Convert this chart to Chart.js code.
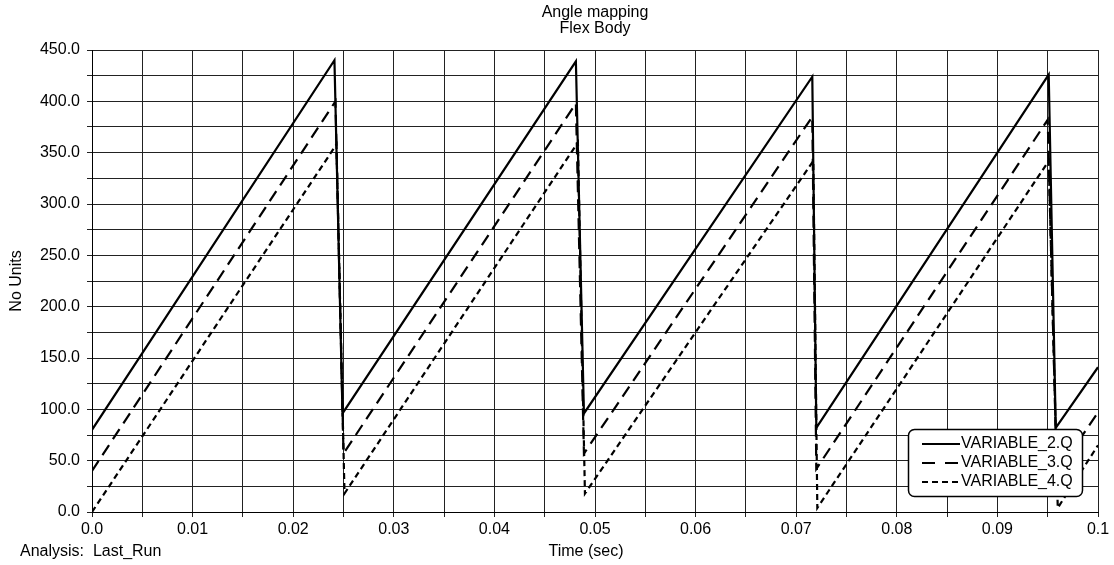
<!DOCTYPE html>
<html>
<head>
<meta charset="utf-8">
<title>Angle mapping</title>
<script src="https://cdn.jsdelivr.net/npm/chart.js@4/dist/chart.umd.min.js"></script>
<style>
  html, body { margin: 0; padding: 0; background: #ffffff; }
  #wrap { width: 1114px; height: 565px; }
</style>
</head>
<body>
<div id="wrap"><canvas id="chart" width="1114" height="565"></canvas></div>
<script>
// Sampled angle history for the three generalized coordinates: [time (s), angle]
const variable2 = [
  [0.0000, 80], [0.0241, 440], [0.0249, 96],
  [0.0481, 439], [0.0489, 96],
  [0.0716, 424], [0.0720, 82],
  [0.0951, 426], [0.0958, 82], [0.1000, 141]
];
const variable3 = [
  [0.0000, 40], [0.0242, 400], [0.0250, 57],
  [0.0481, 398], [0.0489, 57],
  [0.0716, 385], [0.0720, 42],
  [0.0950, 382], [0.0959, 38], [0.1000, 97]
];
const variable4 = [
  [0.0000, 0], [0.0243, 358], [0.0251, 18],
  [0.0483, 360], [0.0490, 18],
  [0.0717, 342], [0.0721, 4],
  [0.0951, 342], [0.0960, 4], [0.1000, 65]
];
const seriesNames = ['VARIABLE_2.Q', 'VARIABLE_3.Q', 'VARIABLE_4.Q'];

// Axis labels (grid lines are drawn at every half step)
const xTickLabels = ['0.0', '0.01', '0.02', '0.03', '0.04', '0.05', '0.06', '0.07', '0.08', '0.09', '0.1'];
const yTickLabels = ['0.0', '50.0', '100.0', '150.0', '200.0', '250.0', '300.0', '350.0', '400.0', '450.0'];
const xGridStep = 0.005;
const yGridStep = 25;

const FONT = "'Liberation Sans', Arial, Helvetica, sans-serif";
const FONT_SIZE = 16;
const INK = '#000000';
const GRID = '#222222';

const toXY = pts => pts.map(p => ({ x: p[0], y: p[1] }));

const dashes = [[], [12, 7], [6, 4]];
const legendDashes = [[], [13, 10], [6, 4]];

function roundRectPath(ctx, x, y, w, h, r) {
  ctx.beginPath();
  ctx.moveTo(x + r, y);
  ctx.arcTo(x + w, y, x + w, y + h, r);
  ctx.arcTo(x + w, y + h, x, y + h, r);
  ctx.arcTo(x, y + h, x, y, r);
  ctx.arcTo(x, y, x + w, y, r);
  ctx.closePath();
}

// Titles, axis captions and the boxed legend
const annotations = {
  id: 'annotations',
  afterDraw(chart) {
    const ctx = chart.ctx;
    const a = chart.chartArea;
    const cx = (a.left + a.right) / 2;
    ctx.save();
    ctx.fillStyle = INK;
    ctx.font = FONT_SIZE + 'px ' + FONT;
    ctx.textAlign = 'center';
    ctx.textBaseline = 'middle';
    ctx.fillText('Angle mapping', cx, 13);
    ctx.fillText('Flex Body', cx, 29);
    ctx.fillText('Time (sec)', cx - 9, 552);

    ctx.save();
    ctx.translate(17, (a.top + a.bottom) / 2);
    ctx.rotate(-Math.PI / 2);
    ctx.fillText('No Units', 0, 0);
    ctx.restore();

    ctx.textAlign = 'left';
    ctx.fillText('Analysis:  Last_Run', 20, 552);

    // legend box
    const bx = a.right - 190, by = a.bottom - 83, bw = 174, bh = 67;
    roundRectPath(ctx, bx + 0.5, by + 0.5, bw, bh, 6);
    ctx.fillStyle = '#ffffff';
    ctx.fill();
    ctx.lineWidth = 1.5;
    ctx.strokeStyle = INK;
    ctx.stroke();

    chart.data.datasets.forEach((ds, i) => {
      const y = by + 15 + i * 19;
      ctx.beginPath();
      ctx.setLineDash(legendDashes[i]);
      ctx.lineWidth = 2;
      ctx.moveTo(bx + 14, y);
      ctx.lineTo(bx + 52, y);
      ctx.stroke();
      ctx.setLineDash([]);
      ctx.fillStyle = INK;
      ctx.textAlign = 'left';
      ctx.fillText(ds.label, bx + 53, y);
    });
    ctx.restore();
  }
};

const datasets = [variable2, variable3, variable4].map((pts, i) => ({
  label: seriesNames[i],
  data: toXY(pts),
  borderColor: INK,
  borderWidth: 2.2,
  borderDash: dashes[i],
  pointRadius: 0,
  tension: 0,
  fill: false
}));

new Chart(document.getElementById('chart'), {
  type: 'line',
  data: { datasets },
  options: {
    responsive: false,
    animation: false,
    devicePixelRatio: 1,
    layout: { padding: { top: 50, right: 16, left: 0, bottom: 0 } },
    plugins: {
      legend: { display: false },
      title: { display: false },
      tooltip: { enabled: false }
    },
    scales: {
      x: {
        type: 'linear',
        min: 0,
        max: 0.1,
        afterBuildTicks(scale) {
          scale.ticks = [];
          for (let i = 0; i < (xTickLabels.length - 1) * 2 + 1; i++) scale.ticks.push({ value: i * xGridStep });
        },
        afterFit(scale) { scale.height = 53; },
        ticks: {
          autoSkip: false,
          maxRotation: 0,
          padding: 3,
          color: INK,
          font: { family: FONT, size: FONT_SIZE },
          callback: (v, i) => (i % 2 === 0 ? xTickLabels[i / 2] : '')
        },
        grid: { color: GRID, lineWidth: 1, tickLength: 5, drawTicks: true },
        border: { display: true, color: INK, width: 1 }
      },
      y: {
        type: 'linear',
        min: 0,
        max: 450,
        afterBuildTicks(scale) {
          scale.ticks = [];
          for (let i = 0; i < (yTickLabels.length - 1) * 2 + 1; i++) scale.ticks.push({ value: i * yGridStep });
        },
        afterFit(scale) { scale.width = 92; },
        ticks: {
          autoSkip: false,
          padding: 7,
          color: INK,
          font: { family: FONT, size: FONT_SIZE },
          callback: (v, i) => (i % 2 === 0 ? yTickLabels[i / 2] : '')
        },
        grid: { color: GRID, lineWidth: 1, tickLength: 5, drawTicks: true },
        border: { display: true, color: INK, width: 1 }
      }
    }
  },
  plugins: [annotations]
});
</script>
</body>
</html>
